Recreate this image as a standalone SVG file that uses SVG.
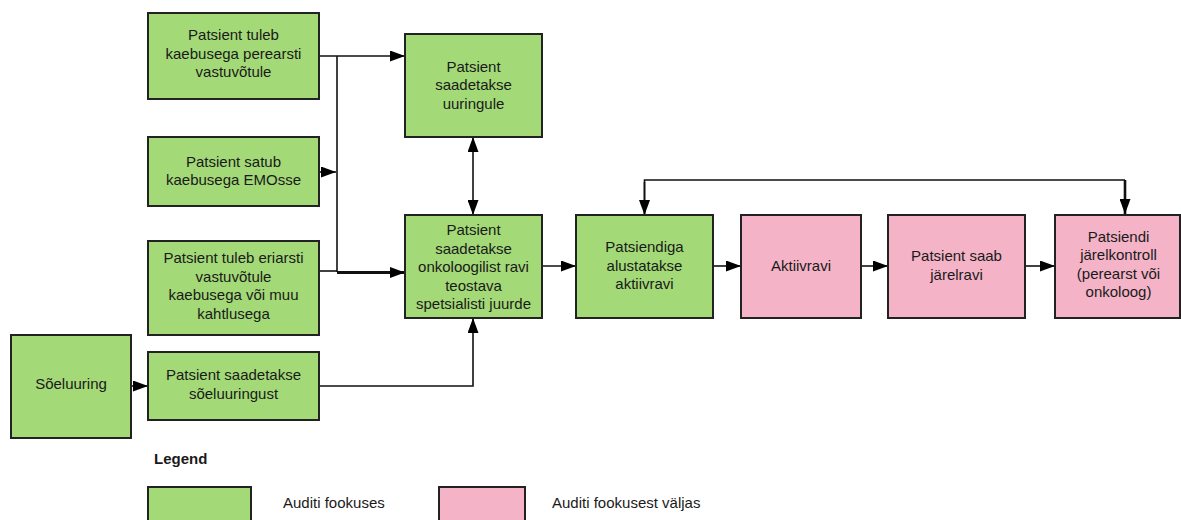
<svg xmlns="http://www.w3.org/2000/svg" width="1181" height="520" viewBox="0 0 1181 520">
<style>
.g{fill:#a3d977;stroke:#222;stroke-width:2}
.p{fill:#f4b3c7;stroke:#222;stroke-width:2}
text{font-family:"Liberation Sans",Arial,sans-serif;font-size:15px;fill:#1a1a1a;text-anchor:middle}
.l{text-anchor:start}
.c{fill:none;stroke:#111;stroke-width:1.6}
</style>
<defs>
<marker id="ah" markerUnits="userSpaceOnUse" markerWidth="15" markerHeight="11" refX="15" refY="5.5" orient="auto-start-reverse">
<path d="M0,0 L15,5.5 L0,11 z" fill="#000"/>
</marker>
</defs>
<rect width="1181" height="520" fill="#fff"/>
<g id="connectors">
<path class="c" d="M319,56 H405" marker-end="url(#ah)"/>
<path class="c" d="M337,56 V272"/>
<path class="c" d="M320,172 H336" marker-end="url(#ah)"/>
<path class="c" d="M319,271 H337"/>
<path class="c" d="M337,272.5 H405" style="stroke-width:3" marker-end="url(#ah)"/>
<path class="c" d="M319,386 H473 V318" marker-end="url(#ah)"/>
<path class="c" d="M473,137 V215" marker-start="url(#ah)" marker-end="url(#ah)"/>
<path class="c" d="M131,386 H148" marker-end="url(#ah)"/>
<path class="c" d="M542,266 H576" marker-end="url(#ah)"/>
<path class="c" d="M713,266 H741" marker-end="url(#ah)"/>
<path class="c" d="M861,266 H888" marker-end="url(#ah)"/>
<path class="c" d="M1025,266 H1055" marker-end="url(#ah)"/>
<path class="c" d="M644.5,215 V180 H1125" />
<path class="c" d="M644.5,182 V215" marker-end="url(#ah)"/>
<path class="c" d="M1125,180 V214" style="stroke-width:2.6" marker-end="url(#ah)"/>
</g>
<g id="n-perearst">
<rect class="g" x="148" y="13" width="171" height="86"/>
<text x="233.5" y="40">Patsient tuleb</text>
<text x="233.5" y="58.5">kaebusega perearsti</text>
<text x="233.5" y="77">vastuvõtule</text>
</g>
<g id="n-emo">
<rect class="g" x="148" y="137" width="171" height="69"/>
<text x="233.5" y="166.5">Patsient satub</text>
<text x="233.5" y="185">kaebusega EMOsse</text>
</g>
<g id="n-eriarst">
<rect class="g" x="148" y="241" width="171" height="94"/>
<text x="233.5" y="263">Patsient tuleb eriarsti</text>
<text x="233.5" y="281.5">vastuvõtule</text>
<text x="233.5" y="300">kaebusega või muu</text>
<text x="233.5" y="318.5">kahtlusega</text>
</g>
<g id="n-soeluuringust">
<rect class="g" x="148" y="352" width="171" height="68"/>
<text x="233.5" y="380">Patsient saadetakse</text>
<text x="233.5" y="398.5">sõeluuringust</text>
</g>
<g id="n-soeluuring">
<rect class="g" x="11" y="335" width="120" height="103"/>
<text x="71" y="389">Sõeluuring</text>
</g>
<g id="n-uuringule">
<rect class="g" x="405" y="34" width="137" height="103"/>
<text x="473.5" y="71.5">Patsient</text>
<text x="473.5" y="90">saadetakse</text>
<text x="473.5" y="108.5">uuringule</text>
</g>
<g id="n-onkoloog">
<rect class="g" x="405" y="215" width="137" height="103"/>
<text x="473.5" y="235">Patsient</text>
<text x="473.5" y="253.5">saadetakse</text>
<text x="473.5" y="272">onkoloogilist ravi</text>
<text x="473.5" y="290.5">teostava</text>
<text x="473.5" y="309">spetsialisti juurde</text>
</g>
<g id="n-alustatakse">
<rect class="g" x="576" y="215" width="137" height="103"/>
<text x="644.5" y="252">Patsiendiga</text>
<text x="644.5" y="270.5">alustatakse</text>
<text x="644.5" y="289">aktiivravi</text>
</g>
<g id="n-aktiivravi">
<rect class="p" x="741" y="215" width="120" height="103"/>
<text x="801" y="270.5">Aktiivravi</text>
</g>
<g id="n-jarelravi">
<rect class="p" x="888" y="215" width="137" height="103"/>
<text x="956.5" y="261">Patsient saab</text>
<text x="956.5" y="279.5">järelravi</text>
</g>
<g id="n-jarelkontroll">
<rect class="p" x="1055" y="215" width="125" height="103"/>
<text x="1118.5" y="241.5">Patsiendi</text>
<text x="1118.5" y="260">järelkontroll</text>
<text x="1118.5" y="278.5">(perearst või</text>
<text x="1118.5" y="297">onkoloog)</text>
</g>
<g id="legend">
<text class="l" x="154" y="464" style="font-weight:bold">Legend</text>
<rect class="g" x="148" y="487" width="103" height="45"/>
<text class="l" x="283" y="508">Auditi fookuses</text>
<rect class="p" x="439" y="487" width="86" height="45"/>
<text class="l" x="552" y="508">Auditi fookusest väljas</text>
</g>
</svg>
